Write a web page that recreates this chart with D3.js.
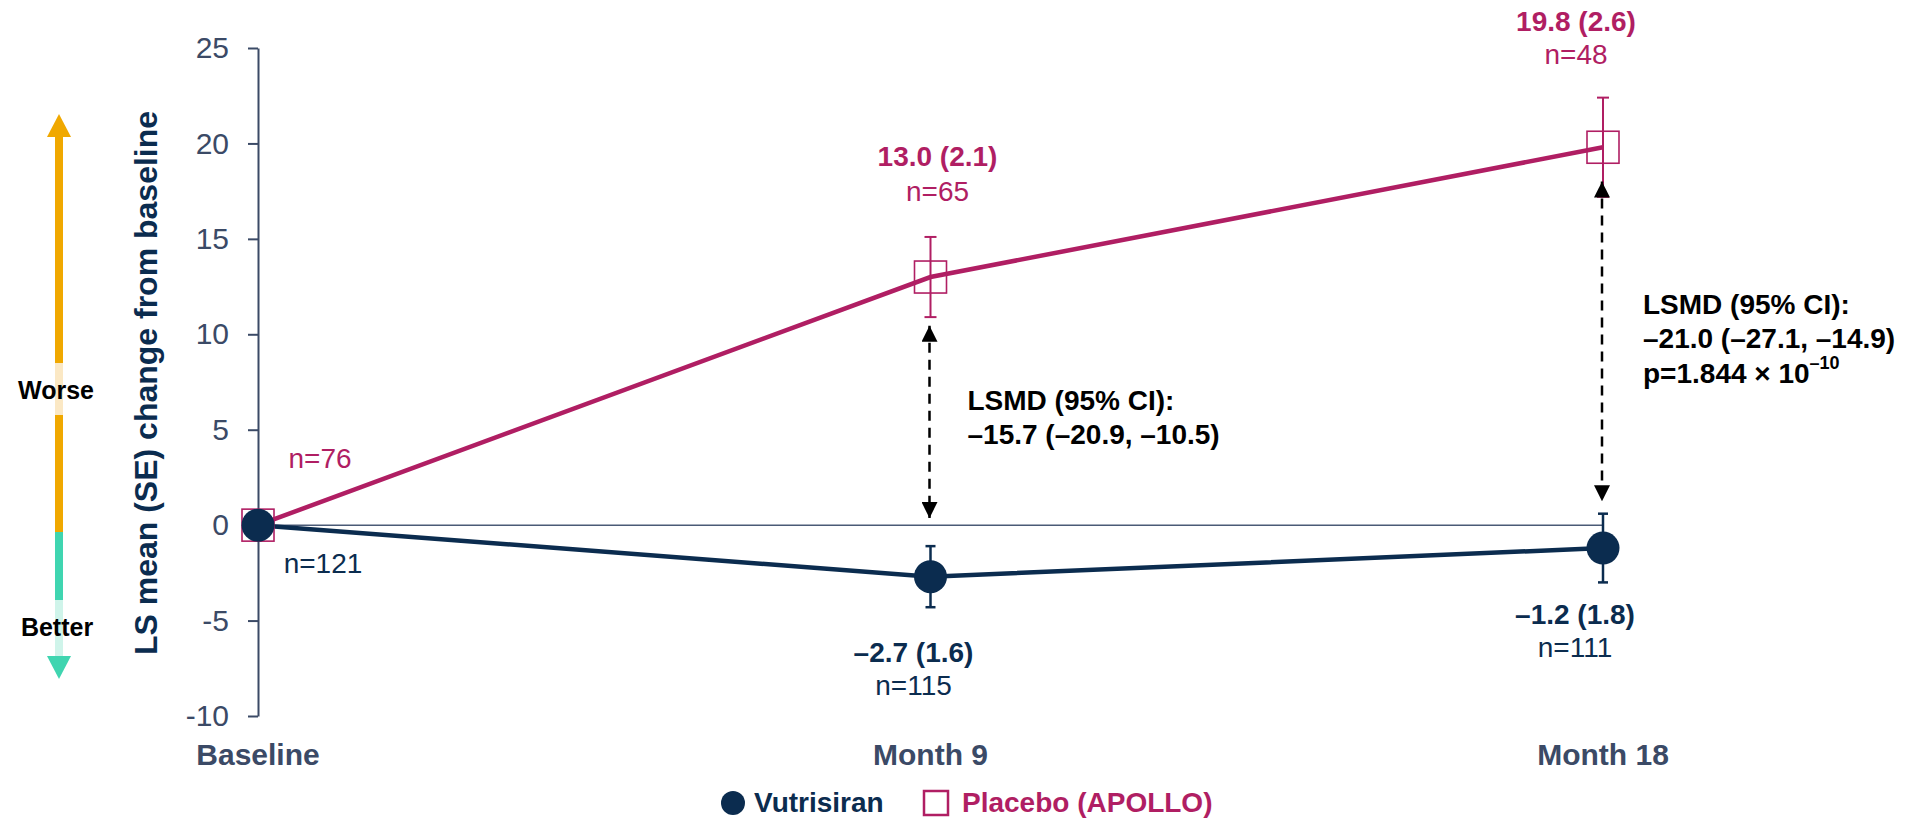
<!DOCTYPE html>
<html>
<head>
<meta charset="utf-8">
<script src="https://cdn.jsdelivr.net/npm/d3@7"></script>
<style>
  body { margin: 0; background: #fff; }
  svg text { font-family: "Liberation Sans", Arial, sans-serif; }
</style>
</head>
<body>
<div id="chart"></div>
<script>
// data
const timepoints = ["Baseline", "Month 9", "Month 18"]
const vutrisiranMean = [0, -2.7, -1.2]
const vutrisiranSE = [0, 1.6, 1.8]
const vutrisiranN = [121, 115, 111]
const placeboMean = [0, 13.0, 19.8]
const placeboSE = [0, 2.1, 2.6]
const placeboN = [76, 65, 48]
const yTicks = [-10, -5, 0, 5, 10, 15, 20, 25]
const lsmdLines = [
  ["LSMD (95% CI):", "\u201315.7 (\u201320.9, \u201310.5)"],
  ["LSMD (95% CI):", "\u201321.0 (\u201327.1, \u201314.9)", "p=1.844 \u00d7 10"]
]

const navy = "#0b2c4f"
const magenta = "#b01e63"
const slate = "#3b4a66"

const width = 1921
const height = 818

const svg = d3.select("#chart").append("svg")
  .attr("viewBox", [0, 0, width, height])
  .attr("width", width)
  .attr("height", height)

const x = d3.scalePoint()
  .domain(timepoints)
  .range([258, 1603])

const y = d3.scaleLinear()
  .domain([-10, 25])
  .range([716, 48])

// y axis
const axisY = svg.append("g").classed("axis y", true)
  .attr("transform", `translate(${x("Baseline")},0)`)
  .call(d3.axisLeft(y).tickValues(yTicks).tickSize(10).tickSizeOuter(0)
    .tickPadding(19).tickFormat(d => String(d)))
axisY.select(".domain").attr("stroke", slate).attr("stroke-width", 2)
axisY.selectAll(".tick line").attr("stroke", slate).attr("stroke-width", 2)
axisY.selectAll(".tick text")
  .attr("fill", slate)
  .attr("font-size", 30)
  .attr("font-family", "Liberation Sans, Arial, sans-serif")

svg.append("text")
  .attr("transform", `translate(146,${(y(25) + y(-10)) / 2 + 1}) rotate(-90)`)
  .attr("text-anchor", "middle")
  .attr("dominant-baseline", "central")
  .attr("font-size", 32)
  .attr("font-weight", "bold")
  .attr("fill", navy)
  .text("LS mean (SE) change from baseline")

// x labels
svg.append("g").classed("axis x", true)
  .selectAll("text")
  .data(timepoints)
  .join("text")
  .attr("x", d => x(d))
  .attr("y", 754)
  .attr("text-anchor", "middle")
  .attr("dominant-baseline", "central")
  .attr("font-size", 30)
  .attr("font-weight", "bold")
  .attr("fill", slate)
  .text(d => d)

// zero reference line
svg.append("line")
  .attr("x1", x("Baseline")).attr("x2", x("Month 18"))
  .attr("y1", y(0)).attr("y2", y(0))
  .attr("stroke", "#4a5a76")
  .attr("stroke-width", 1.5)

const placebo = timepoints.map((t, i) => ({ t, m: placeboMean[i], se: placeboSE[i], n: placeboN[i] }))
const vutri = timepoints.map((t, i) => ({ t, m: vutrisiranMean[i], se: vutrisiranSE[i], n: vutrisiranN[i] }))

const line = d3.line().x(d => x(d.t)).y(d => y(d.m))

svg.append("path").datum(placebo)
  .attr("d", line).attr("fill", "none")
  .attr("stroke", magenta).attr("stroke-width", 4.5)
svg.append("path").datum(vutri)
  .attr("d", line).attr("fill", "none")
  .attr("stroke", navy).attr("stroke-width", 4.5)

function errorBars(data, color, cap, sw) {
  const g = svg.append("g")
  const d = data.filter(p => p.se > 0)
  g.selectAll("line.v").data(d).join("line")
    .attr("x1", p => x(p.t)).attr("x2", p => x(p.t))
    .attr("y1", p => y(p.m + p.se)).attr("y2", p => y(p.m - p.se))
    .attr("stroke", color).attr("stroke-width", sw)
  g.selectAll("line.top").data(d).join("line")
    .attr("x1", p => x(p.t) - cap / 2).attr("x2", p => x(p.t) + cap / 2)
    .attr("y1", p => y(p.m + p.se)).attr("y2", p => y(p.m + p.se))
    .attr("stroke", color).attr("stroke-width", sw)
  g.selectAll("line.bot").data(d).join("line")
    .attr("x1", p => x(p.t) - cap / 2).attr("x2", p => x(p.t) + cap / 2)
    .attr("y1", p => y(p.m - p.se)).attr("y2", p => y(p.m - p.se))
    .attr("stroke", color).attr("stroke-width", sw)
}
errorBars(placebo, magenta, 12, 2)
errorBars(vutri, navy, 10, 2.5)

// markers
svg.append("g").selectAll("rect").data(placebo).join("rect")
  .attr("x", d => x(d.t) - 16).attr("y", d => y(d.m) - 16)
  .attr("width", 32).attr("height", 32)
  .attr("fill", "none").attr("stroke", magenta).attr("stroke-width", 1.6)
svg.append("g").selectAll("circle").data(vutri).join("circle")
  .attr("cx", d => x(d.t)).attr("cy", d => y(d.m))
  .attr("r", 16.5).attr("fill", navy)

// value and n labels (offsets from each point)
const placeboLabelOffsets = [
  { dx: 62, dv: null, dn: -67 },
  { dx: 7, dv: -121, dn: -86 },
  { dx: -27, dv: -126, dn: -93 }
]
const vutriLabelOffsets = [
  { dx: 65, dv: null, dn: 38 },
  { dx: -17, dv: 76, dn: 109 },
  { dx: -28, dv: 66, dn: 99 }
]
const fmt = v => (v < 0 ? "\u2013" : "") + Math.abs(v).toFixed(1)

function pointLabels(data, offs, color) {
  const g = svg.append("g").attr("fill", color).attr("text-anchor", "middle")
    .attr("dominant-baseline", "central").attr("font-size", 28)
  data.forEach((p, i) => {
    const o = offs[i]
    if (o.dv !== null) {
      g.append("text")
        .attr("x", x(p.t) + o.dx).attr("y", y(p.m) + o.dv)
        .attr("font-weight", "bold")
        .text(`${fmt(p.m)} (${p.se.toFixed(1)})`)
    }
    g.append("text")
      .attr("x", x(p.t) + o.dx).attr("y", y(p.m) + o.dn)
      .text(`n=${p.n}`)
  })
}
pointLabels(placebo, placeboLabelOffsets, magenta)
pointLabels(vutri, vutriLabelOffsets, navy)

// LSMD arrows
const defs = svg.append("defs")
defs.append("marker")
  .attr("id", "tri")
  .attr("viewBox", "0 0 10 10")
  .attr("refX", 10).attr("refY", 5)
  .attr("markerWidth", 16).attr("markerHeight", 16)
  .attr("markerUnits", "userSpaceOnUse")
  .attr("orient", "auto-start-reverse")
  .append("path").attr("d", "M0,0L10,5L0,10Z").attr("fill", "#000")

const arrowSpans = [
  { t: "Month 9", top: 10.45, bottom: 0.37 },
  { t: "Month 18", top: 18.0, bottom: 1.25 }
]
svg.append("g").selectAll("line").data(arrowSpans).join("line")
  .attr("x1", d => x(d.t) - 1).attr("x2", d => x(d.t) - 1)
  .attr("y1", d => y(d.top)).attr("y2", d => y(d.bottom))
  .attr("stroke", "#000").attr("stroke-width", 2.5)
  .attr("stroke-dasharray", "10 7")
  .attr("marker-start", "url(#tri)")
  .attr("marker-end", "url(#tri)")

const lsmdPos = [
  { t: "Month 9", dx: 37, y0: 400 },
  { t: "Month 18", dx: 40, y0: 304 }
]
lsmdPos.forEach((p, i) => {
  const g = svg.append("g").attr("font-size", 28).attr("font-weight", "bold")
    .attr("fill", "#000").attr("dominant-baseline", "central")
  lsmdLines[i].forEach((s, j) => {
    const tx = g.append("text")
      .attr("x", x(p.t) + p.dx).attr("y", p.y0 + j * 34.5)
      .text(s)
    if (j === 2) {
      tx.append("tspan").attr("font-size", 18).attr("dy", -10).text("\u201310")
    }
  })
})

// worse / better arrow
const wb = svg.append("g")
wb.append("path").attr("d", "M47,137L59,114L71,137Z").attr("fill", "#f0a800")
wb.append("rect").attr("x", 55).attr("y", 136).attr("width", 8).attr("height", 227).attr("fill", "#f0a800")
wb.append("rect").attr("x", 55).attr("y", 363).attr("width", 8).attr("height", 52).attr("fill", "#fbe8c4")
wb.append("rect").attr("x", 55).attr("y", 415).attr("width", 8).attr("height", 117).attr("fill", "#f0a800")
wb.append("rect").attr("x", 55).attr("y", 532).attr("width", 8).attr("height", 68).attr("fill", "#3fd5b0")
wb.append("rect").attr("x", 55).attr("y", 600).attr("width", 8).attr("height", 57).attr("fill", "#cff4ea")
wb.append("path").attr("d", "M47,656L59,679L71,656Z").attr("fill", "#3fd5b0")
wb.append("text").attr("x", 56).attr("y", 390)
  .attr("text-anchor", "middle").attr("dominant-baseline", "central")
  .attr("font-size", 25).attr("font-weight", "bold").attr("fill", "#000").text("Worse")
wb.append("text").attr("x", 57).attr("y", 627)
  .attr("text-anchor", "middle").attr("dominant-baseline", "central")
  .attr("font-size", 25).attr("font-weight", "bold").attr("fill", "#000").text("Better")

// legend
const legend = svg.append("g").attr("font-size", 28).attr("font-weight", "bold")
  .attr("dominant-baseline", "central")
legend.append("circle").attr("cx", 733).attr("cy", 803).attr("r", 12).attr("fill", navy)
legend.append("text").attr("x", 754).attr("y", 802).attr("fill", navy).text("Vutrisiran")
legend.append("rect").attr("x", 924).attr("y", 791).attr("width", 24).attr("height", 24)
  .attr("fill", "none").attr("stroke", magenta).attr("stroke-width", 2.5)
legend.append("text").attr("x", 962).attr("y", 802).attr("fill", magenta).text("Placebo (APOLLO)")
</script>
</body>
</html>
